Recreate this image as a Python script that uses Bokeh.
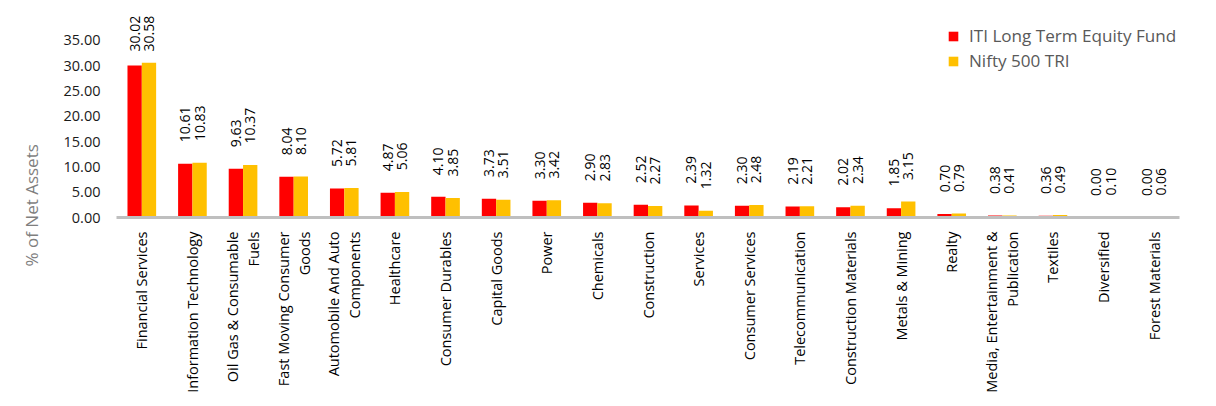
import math
from bokeh.plotting import figure
from bokeh.models import (ColumnDataSource, FactorRange, Range1d, FixedTicker,
                          NumeralTickFormatter, Title)
from bokeh.transform import dodge
from bokeh.core.properties import value
from bokeh.embed import file_html
from bokeh.resources import INLINE

categories = [
    "Financial Services", "Information Technology", "Oil Gas & Consumable\nFuels",
    "Fast Moving Consumer\nGoods", "Automobile And Auto\nComponents", "Healthcare",
    "Consumer Durables", "Capital Goods", "Power", "Chemicals", "Construction",
    "Services", "Consumer Services", "Telecommunication", "Construction Materials",
    "Metals & Mining", "Realty", "Media, Entertainment &\nPublication", "Textiles",
    "Diversified", "Forest Materials",
]
fund = [30.02, 10.61, 9.63, 8.04, 5.72, 4.87, 4.10, 3.73, 3.30, 2.90, 2.52,
        2.39, 2.30, 2.19, 2.02, 1.85, 0.70, 0.38, 0.36, 0.00, 0.00]
bench = [30.58, 10.83, 10.37, 8.10, 5.81, 5.06, 3.85, 3.51, 3.42, 2.83, 2.27,
         1.32, 2.48, 2.21, 2.34, 3.15, 0.79, 0.41, 0.49, 0.10, 0.06]
series_names = ["ITI Long Term Equity Fund", "Nifty 500 TRI"]
yticks = [0, 5, 10, 15, 20, 25, 30, 35]
y_title = "% of Net Assets"

FONT = "Open Sans"
RED = "#FF0000"
YEL = "#FFC000"
FRAME_H = 210
Y_END = 41.5
PX = FRAME_H / Y_END
LABEL_LEN = 44


def offsets(vals):
    return [-min(21.6, (Y_END - v) * PX - LABEL_LEN) for v in vals]


src = ColumnDataSource(dict(
    cat=categories, fund=fund, bench=bench,
    fund_lbl=[f"{v:.2f}" for v in fund], bench_lbl=[f"{v:.2f}" for v in bench],
    off_f=offsets(fund), off_b=offsets(bench),
))

p = figure(x_range=FactorRange(factors=categories, range_padding=0),
           y_range=Range1d(0, Y_END),
           frame_width=1063, frame_height=FRAME_H,
           min_border_left=116, min_border_right=30, min_border_top=7,
           min_border_bottom=180,
           output_backend="svg", toolbar_location=None)
p.outline_line_color = None
p.xgrid.visible = False
p.ygrid.visible = False

W = 0.283
p.vbar(x=dodge("cat", -W / 2, range=p.x_range), top="fund", width=W, source=src,
       fill_color=RED, line_color=None, legend_label=series_names[0])
p.vbar(x=dodge("cat", W / 2, range=p.x_range), top="bench", width=W, source=src,
       fill_color=YEL, line_color=None, legend_label=series_names[1])

p.text(x=dodge("cat", -W / 2, range=p.x_range), y="fund", text="fund_lbl",
       source=src, angle=math.pi / 2, text_align="left", text_baseline="middle",
       y_offset="off_f", text_font=value(FONT), text_font_size="14px",
       text_color="#000000")
p.text(x=dodge("cat", W / 2, range=p.x_range), y="bench", text="bench_lbl",
       source=src, angle=math.pi / 2, text_align="left", text_baseline="middle",
       y_offset="off_b", text_font=value(FONT), text_font_size="14px",
       text_color="#000000")

xa = p.xaxis[0]
xa.major_label_orientation = math.pi / 2
xa.major_tick_line_color = None
xa.minor_tick_line_color = None
xa.axis_line_color = "#bfbfbf"
xa.axis_line_width = 3
xa.major_label_text_font = FONT
xa.major_label_text_font_size = "14.5px"
xa.major_label_text_color = "#000000"
xa.major_label_text_line_height = 1.12
xa.major_label_standoff = 8

ya = p.yaxis[0]
ya.ticker = FixedTicker(ticks=yticks)
ya.formatter = NumeralTickFormatter(format="0.00")
ya.axis_line_color = None
ya.major_tick_line_color = None
ya.minor_tick_line_color = None
ya.major_tick_out = 0
ya.major_label_standoff = 16
ya.major_label_text_font = FONT
ya.major_label_text_font_size = "14.5px"
ya.major_label_text_color = "#1a1a1a"

p.add_layout(Title(text=y_title, align="left", offset=-49,
                   text_font=FONT, text_font_size="17px",
                   text_font_style="normal", text_color="#7f7f7f",
                   standoff=35), "left")

lg = p.legend[0]
lg.location = (831, 145)
lg.padding = 0
lg.margin = 0
lg.spacing = 2
lg.glyph_width = 12
lg.glyph_height = 12
lg.label_height = 20
lg.label_standoff = 10
lg.border_line_color = None
lg.background_fill_alpha = 0
lg.label_text_font = FONT
lg.label_text_font_size = "17.1px"
lg.label_text_color = "#595959"

open("out.html", "w").write(file_html(p, INLINE))
